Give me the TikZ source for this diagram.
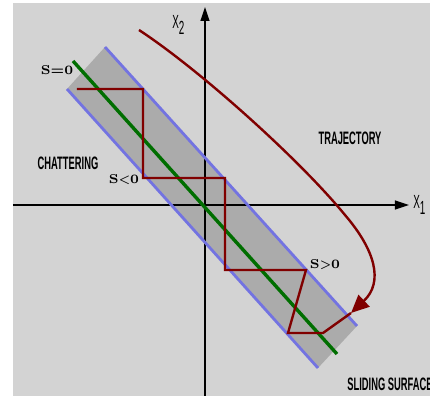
\documentclass[tikz,border=0pt]{standalone}
\usepackage{fontspec}
\usepackage{tikz}
\usetikzlibrary{arrows.meta}
\newfontfamily\condfont[FakeStretch=0.52]{Liberation Sans}
\definecolor{smcbg}{RGB}{211,211,211}
\definecolor{smcband}{RGB}{171,171,171}
\definecolor{smcblue}{RGB}{115,115,225}
\definecolor{smcgreen}{RGB}{0,110,0}
\definecolor{smcred}{RGB}{128,0,0}
\tikzset{
  axisline/.style={-{Triangle[length=7pt,width=4.5pt]}, line width=0.6pt, draw=black},
  bound/.style={line width=1.4pt, draw=smcblue},
  surface/.style={line width=1.7pt, draw=smcgreen},
  chatter/.style={line width=1.2pt, draw=smcred},
  traj/.style={line width=1.2pt, draw=smcred, -{Triangle[length=9pt,width=8pt]}},
  tag/.style={font=\condfont\bfseries\fontsize{9}{10}\selectfont, inner sep=0pt},
  axtag/.style={font=\condfont\fontsize{9.5}{10}\selectfont, inner sep=0pt, anchor=base west},
  sign/.style={font=\bfseries\fontsize{6.4}{7}\selectfont, inner sep=0pt}
}

\begin{document}
\begin{tikzpicture}[x=0.5pt, y=-0.5pt]
    \useasboundingbox (0,0) rectangle (430,396);
    \fill[smcbg] (13,3) rectangle (430,396);

    % boundary layer
    \coordinate (bandtl) at (105,47);
    \coordinate (bandbl) at (67,89);
    \coordinate (bandtr) at (357,326);
    \coordinate (bandbr) at (318,368);
    \fill[smcband] (bandtl) -- (bandtr) -- (bandbr) -- (bandbl) -- cycle;

    % axes
    \coordinate (xstart) at (13,205);
    \coordinate (xend) at (409,205);
    \coordinate (ystart) at (205,396);
    \coordinate (yend) at (205,7);
    \draw[axisline] (xstart) -- (xend);
    \draw[axisline] (ystart) -- (yend);
    \node[axtag] (xone) at (413,209) {X\raisebox{-0.3em}{1}};
    \node[axtag] (xtwo) at (172,29) {X\raisebox{-0.3em}{2}};

    \draw[bound] (bandtl) -- (bandtr);
    \draw[bound] (bandbl) -- (bandbr);
    \coordinate (sstart) at (73,61);
    \coordinate (send) at (337,354);
    \draw[surface] (sstart) -- (send);

    % trajectory and chattering
    \coordinate (tstart) at (139,30);
    \coordinate (tcross) at (345,215);
    \coordinate (hit) at (351,313);
    \draw[traj] (tstart) .. controls (200,70) and (300,160) .. (tcross)
      .. controls (375,250) and (384,282) .. (hit);
    \coordinate (c1) at (323,333);
    \coordinate (c2) at (288,333);
    \coordinate (c3) at (306,270);
    \coordinate (c4) at (225,270);
    \coordinate (c5) at (225,178);
    \coordinate (c6) at (143,178);
    \coordinate (c7) at (143,89);
    \coordinate (c8) at (77,89);
    \draw[chatter] (hit) -- (c1) -- (c2) -- (c3) -- (c4) -- (c5) -- (c6)
      -- (c7) -- (c8);

    \node[sign] (szero) at (57,70) {S=0};
    \node[sign] (sneg) at (124,180) {S<0};
    \node[sign] (spos) at (325,265) {S>0};
    \node[tag] (chat) at (68,163) {CHATTERING};
    \node[tag] (trajlab) at (350,138) {TRAJECTORY};
    \node[tag, anchor=west] (slide) at (347,384) {SLIDING SURFACE};
  \end{tikzpicture}
\end{document}
